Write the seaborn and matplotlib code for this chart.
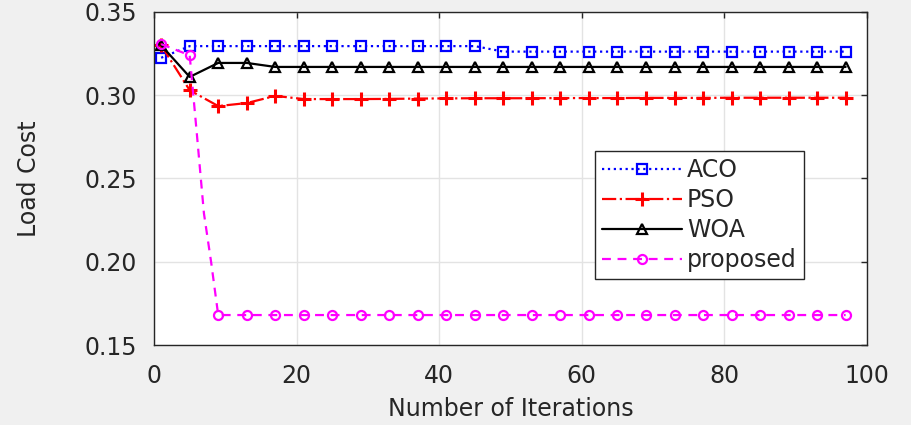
import numpy as np
import pandas as pd
import matplotlib
matplotlib.use("Agg")
import matplotlib.pyplot as plt
import seaborn as sns

# Iterations at which each algorithm's cost is recorded
iters = [1, 5, 9, 13, 17, 21, 25, 29, 33, 37, 41, 45, 49,
         53, 57, 61, 65, 69, 73, 77, 81, 85, 89, 93, 97]

aco_cost = [0.3225, 0.3295, 0.3295, 0.3295, 0.3295, 0.3295, 0.3295, 0.3295, 0.3295,
            0.3295, 0.3295, 0.3295, 0.3262, 0.3262, 0.3262, 0.3262, 0.3262, 0.3262,
            0.3262, 0.3262, 0.3262, 0.3262, 0.3262, 0.3262, 0.3262]

pso_cost = [0.3300, 0.3030, 0.2935, 0.2953, 0.2996, 0.2977, 0.2977, 0.2977, 0.2978,
            0.2980, 0.2981, 0.2982, 0.2982, 0.2982, 0.2983, 0.2983, 0.2983, 0.2984,
            0.2984, 0.2984, 0.2985, 0.2985, 0.2985, 0.2985, 0.2985]

woa_cost = [0.3300, 0.3110, 0.3194, 0.3194, 0.3170, 0.3170, 0.3170, 0.3170, 0.3170,
            0.3170, 0.3170, 0.3170, 0.3170, 0.3170, 0.3170, 0.3170, 0.3170, 0.3170,
            0.3170, 0.3170, 0.3170, 0.3170, 0.3170, 0.3170, 0.3170]

# The proposed method also logs iterations 6-8 during its fast descent
prop_iters = [1, 5, 6, 7, 8, 9, 13, 17, 21, 25, 29, 33, 37, 41, 45, 49,
              53, 57, 61, 65, 69, 73, 77, 81, 85, 89, 93, 97]
prop_cost = [0.3307, 0.3240, 0.2770, 0.2290, 0.2000, 0.1680, 0.1680, 0.1680, 0.1680,
             0.1680, 0.1680, 0.1680, 0.1680, 0.1680, 0.1680, 0.1680, 0.1680, 0.1680,
             0.1680, 0.1680, 0.1680, 0.1680, 0.1680, 0.1680, 0.1680, 0.1680, 0.1680,
             0.1680]
prop_marks = [0, 1] + list(range(5, len(prop_iters)))

x_ticks = [0, 20, 40, 60, 80, 100]
y_ticks = [0.15, 0.20, 0.25, 0.30, 0.35]

sns.set_style("white")
plt.rcParams["font.family"] = ["DejaVu Sans"]
plt.rcParams["text.color"] = "#262626"

fig = plt.figure(figsize=(9.12, 4.25), dpi=100)
fig.patch.set_facecolor("#f0f0f0")
ax = fig.add_axes([0.1689, 0.1882, 0.7818, 0.7836])
ax.set_facecolor("white")

lw = 1.6
ms = 6.5
sns.lineplot(x=iters, y=aco_cost, ax=ax, color="#0000ff", linestyle=":",
             linewidth=lw, marker="s", markersize=ms, markerfacecolor="none",
             markeredgecolor="#0000ff", markeredgewidth=1.6,
             sort=False, estimator=None, label="ACO")
sns.lineplot(x=iters, y=pso_cost, ax=ax, color="#ff0000", linestyle="-.",
             linewidth=lw, marker="+", markersize=ms + 3, markeredgewidth=2.2,
             markeredgecolor="#ff0000",
             sort=False, estimator=None, label="PSO")
sns.lineplot(x=iters, y=woa_cost, ax=ax, color="black", linestyle="-",
             linewidth=lw, marker="^", markersize=ms, markerfacecolor="none",
             markeredgecolor="black", markeredgewidth=1.6,
             sort=False, estimator=None, label="WOA")
sns.lineplot(x=prop_iters, y=prop_cost, ax=ax, color="#ff00ff", dashes=False,
             linewidth=lw, marker="o", markersize=ms, markerfacecolor="none",
             markeredgecolor="#ff00ff", markeredgewidth=1.6, markevery=prop_marks,
             sort=False, estimator=None, label="proposed")
ax.lines[-1].set_linestyle((0, (4, 3)))

ax.set_xlim(0, 100)
ax.set_ylim(0.15, 0.35)
ax.set_xticks(x_ticks)
ax.set_yticks(y_ticks)
ax.set_yticklabels([f"{v:.2f}" for v in y_ticks])
ax.grid(True, color="#e3e3e3", linewidth=1.0)
ax.tick_params(direction="in", length=4, width=1, colors="#262626",
               labelsize=17, top=True, right=True, pad=12)
ax.tick_params(axis="x", pad=14)
for s in ax.spines.values():
    s.set_color("#262626")
    s.set_linewidth(1.0)

ax.set_xlabel("Number of Iterations", fontsize=17, color="#262626", labelpad=6)
ax.set_ylabel("Load Cost", fontsize=17, color="#262626")
ax.yaxis.set_label_coords(-0.158, 0.5)

leg = ax.legend(loc="upper left", bbox_to_anchor=(0.6185, 0.5826), borderaxespad=0,
                fontsize=17, frameon=True, fancybox=False, framealpha=1,
                edgecolor="#262626", handlelength=3.4, handletextpad=0.2,
                labelspacing=0.25, borderpad=0.3)
leg.get_frame().set_linewidth(1.0)

fig.savefig("out.png", dpi=100, facecolor=fig.get_facecolor())
